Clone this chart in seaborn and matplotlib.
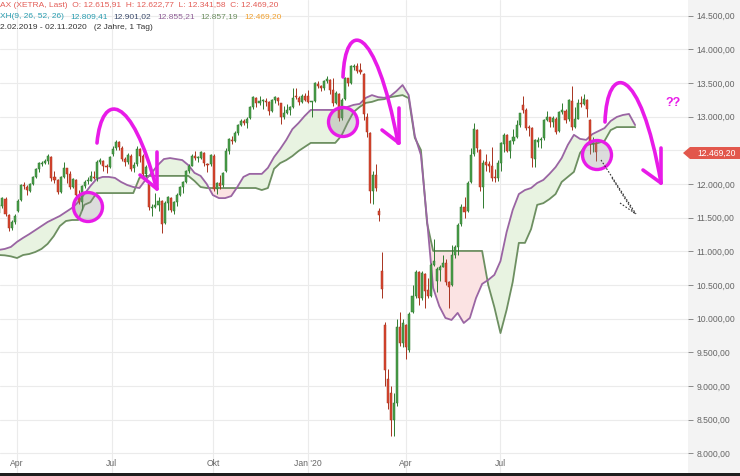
import numpy as np
import pandas as pd
import matplotlib
matplotlib.use("Agg")
import matplotlib.pyplot as plt
import matplotlib.transforms as mtransforms
from matplotlib.patches import Polygon, PathPatch, Rectangle, Circle
from matplotlib.path import Path
import seaborn as sns

# ------------------------------------------------------------------ data
# DAX candles, one candle = 2 trading days, starting mid-March 2019, ending 25.09.2020
open_ = [11570, 11680, 11780, 11540, 11350, 11430, 11600, 11760, 11990, 11960,
         11900, 12000, 12110, 12220, 12300, 12310, 12340, 12400, 12100, 12060,
         11880, 12110, 12230, 12150, 11960, 12060, 11840, 11730, 11970, 12040,
         12050, 12110, 12090, 12330, 12340, 12270, 12250, 12450, 12530, 12620,
         12540, 12370, 12330, 12420, 12230, 12290, 12520, 12420, 12150, 12000,
         11650, 11660, 11690, 11740, 11420, 11710, 11790, 11600, 11730, 11840,
         11950, 12030, 12190, 12270, 12410, 12380, 12390, 12460, 12300, 12290,
         12420, 11920, 12010, 11980, 12200, 12490, 12660, 12640, 12750, 12880,
         12940, 12900, 12980, 13150, 13280, 13200, 13230, 13240, 13220, 13090,
         13250, 13280, 13200, 12990, 13060, 13100, 13150, 13300, 13280, 13220,
         13300, 13300, 13220, 13230, 13490, 13450, 13430, 13530, 13550, 13390,
         13210, 13340, 12980, 13260, 13570, 13500, 13740, 13750, 13690, 13640,
         13000, 12750, 11900, 12130, 11600, 10700, 9900, 9100, 8900, 8500,
         8750, 9880, 9640, 9900, 9530, 10100, 10340, 10690, 10300, 10670,
         10420, 10340, 10800, 10560, 10720, 10770, 10820, 10540, 10500, 10940,
         11060, 11400, 11660, 11600, 12030, 12440, 12800, 12500, 11950, 12320,
         12290, 12270, 12090, 12090, 12310, 12600, 12730, 12490, 12640, 12700,
         12880, 13180, 13100, 12840, 12830, 12370, 12620, 12650, 12690, 12950,
         12990, 12920, 12970, 12780, 13070, 13090, 12960, 13240, 12850, 12970,
         13210, 13190, 13250, 12950, 12600, 12616]
high = [11700, 11800, 11800, 11560, 11470, 11560, 11770, 12000, 12030, 11980,
        12020, 12120, 12240, 12330, 12340, 12370, 12440, 12410, 12200, 12080,
        12120, 12330, 12240, 12190, 12090, 12080, 11910, 11990, 12060, 12110,
        12190, 12200, 12360, 12390, 12350, 12290, 12410, 12560, 12660, 12640,
        12560, 12400, 12460, 12440, 12320, 12560, 12530, 12440, 12280, 12010,
        11700, 11870, 11800, 11760, 11740, 11820, 11810, 11750, 11860, 11970,
        12040, 12210, 12290, 12440, 12490, 12420, 12490, 12470, 12310, 12440,
        12450, 12030, 12130, 12180, 12530, 12690, 12720, 12780, 12890, 12960,
        12970, 13000, 13160, 13300, 13290, 13300, 13260, 13270, 13230, 13260,
        13300, 13290, 13210, 13160, 13190, 13160, 13420, 13430, 13300, 13340,
        13350, 13400, 13240, 13510, 13530, 13470, 13540, 13600, 13560, 13580,
        13380, 13350, 13280, 13590, 13580, 13760, 13780, 13800, 13800, 13650,
        13050, 12770, 12200, 12290, 11650, 10990, 9950, 9250, 9000, 8900,
        10000, 10100, 10000, 9920, 10100, 10500, 10720, 10710, 10700, 10680,
        10600, 10820, 11180, 10760, 10800, 10950, 10880, 10560, 11100, 11100,
        11420, 11700, 11800, 12050, 12530, 12910, 12810, 12520, 12350, 12450,
        12340, 12550, 12220, 12350, 12620, 12750, 12740, 12660, 12820, 12950,
        13060, 13310, 13130, 12880, 12850, 12670, 12700, 12700, 12960, 13080,
        13000, 13010, 12990, 13090, 13210, 13120, 13260, 13460, 13140, 13260,
        13300, 13330, 13260, 12960, 12700, 12623]
low = [11540, 11640, 11520, 11300, 11320, 11400, 11580, 11750, 11930, 11830,
       11880, 11990, 12090, 12180, 12260, 12290, 12300, 12050, 12020, 11850,
       11860, 12090, 12020, 11930, 11940, 11820, 11700, 11620, 11940, 12000,
       12040, 12070, 12040, 12290, 12200, 12170, 12230, 12420, 12500, 12510,
       12340, 12260, 12300, 12200, 12180, 12270, 12330, 12120, 12100, 11620,
       11520, 11640, 11600, 11270, 11400, 11620, 11580, 11550, 11680, 11820,
       11870, 12020, 12170, 12260, 12360, 12330, 12370, 12270, 12180, 12260,
       11900, 11850, 11920, 11960, 12180, 12440, 12600, 12620, 12730, 12860,
       12880, 12830, 12960, 13120, 13150, 13180, 13120, 13160, 13030, 13070,
       13200, 13180, 12890, 12960, 13040, 13030, 13130, 13260, 13180, 13200,
       13230, 13200, 13000, 13220, 13420, 13380, 13400, 13500, 13340, 13160,
       13190, 12940, 12950, 13250, 13460, 13490, 13690, 13650, 13630, 12950,
       12700, 11720, 11700, 11900, 11450, 10300, 9000, 8650, 8260, 8260,
       8700, 9600, 9580, 9400, 9500, 10080, 10300, 10200, 10280, 10160,
       10300, 10320, 10780, 10400, 10560, 10760, 10500, 10160, 10480, 10900,
       10950, 11380, 11500, 11580, 12010, 12420, 12470, 11900, 11650, 12200,
       12180, 12050, 12030, 12040, 12200, 12480, 12470, 12390, 12600, 12680,
       12850, 13050, 12800, 12720, 12250, 12250, 12550, 12540, 12660, 12930,
       12840, 12840, 12740, 12770, 13040, 12900, 12940, 12800, 12830, 12960,
       13150, 13180, 13000, 12440, 12480, 12342]
close = [11686, 11788, 11549, 11346, 11428, 11526, 11754, 11988, 11963, 11905,
         11999, 12101, 12222, 12313, 12315, 12344, 12412, 12092, 12060, 11876,
         12100, 12239, 12143, 11952, 12071, 11838, 11727, 11971, 12035, 12045,
         12116, 12096, 12331, 12355, 12274, 12248, 12399, 12526, 12629, 12543,
         12373, 12323, 12430, 12227, 12289, 12522, 12419, 12147, 12250, 11658,
         11650, 11694, 11750, 11412, 11715, 11802, 11612, 11731, 11838, 11953,
         12025, 12192, 12268, 12410, 12380, 12389, 12468, 12307, 12288, 12428,
         11925, 12012, 11970, 12164, 12486, 12670, 12634, 12754, 12872, 12941,
         12910, 12960, 13148, 13289, 13198, 13230, 13241, 13221, 13086, 13246,
         13287, 13236, 12989, 13055, 13105, 13141, 13282, 13287, 13212, 13301,
         13249, 13219, 13227, 13495, 13452, 13432, 13526, 13556, 13389, 13205,
         13345, 12982, 13250, 13575, 13494, 13749, 13744, 13682, 13665, 13035,
         12774, 11890, 12128, 11944, 11540, 10439, 9232, 8742, 8500, 8741,
         9874, 9633, 9936, 9571, 10075, 10333, 10697, 10301, 10676, 10415,
         10336, 10796, 10862, 10730, 10760, 10824, 10543, 10465, 10939, 11065,
         11392, 11657, 11587, 12021, 12431, 12820, 12530, 11949, 12315, 12281,
         12262, 12093, 12089, 12311, 12608, 12733, 12495, 12633, 12697, 12874,
         13047, 13104, 12838, 12836, 12380, 12650, 12660, 12675, 12947, 12994,
         12920, 12977, 12765, 13062, 13096, 12945, 13243, 12842, 12968, 13208,
         13194, 13255, 13116, 12595, 12607, 12469]
DAYS_PER_CANDLE = 2

# Ichimoku cloud lines (one value every 4 trading days, incl. 26-day projection)
CLOUD_STEP = 4
span_a = [11020, 11035, 11065, 11140, 11200, 11255, 11315, 11375, 11435, 11480,
          11525, 11585, 11645, 11730, 11850, 11970, 12075, 12105, 12105, 12090,
          12030, 11985, 11955, 11940, 12060, 12165, 12280, 12370, 12385, 12370,
          12355, 12280, 12165, 12120, 12000, 11835, 11790, 11790, 11820, 11955,
          12105, 12150, 12150, 12150, 12240, 12400, 12520, 12655, 12815, 12905,
          13010, 13100, 13100, 13100, 13100, 13100, 13115, 13145, 13175, 13190,
          13280, 13320, 13290, 13280, 13305, 13380, 13470, 13320, 12715, 12430,
          11465, 10455, 10185, 10010, 9980, 10085, 9935, 10010, 10305, 10515,
          10575, 10650, 10855, 11285, 11615, 11850, 11910, 11940, 12015, 12060,
          12150, 12250, 12385, 12580, 12730, 12670, 12655, 12740, 12785, 12830,
          12935, 12995, 13025, 13040, 12875]
span_b = [10945, 10940, 10925, 10900, 10945, 10960, 10990, 11035, 11110, 11225,
          11375, 11450, 11465, 11465, 11690, 11730, 11865, 11865, 11865, 11865,
          11865, 11865, 11865, 12090, 12120, 12120, 12120, 12120, 12120, 12120,
          12120, 12120, 12045, 11955, 11940, 11940, 11940, 11940, 11940, 11940,
          11940, 11940, 11940, 11910, 11940, 12225, 12310, 12355, 12415, 12490,
          12550, 12610, 12610, 12610, 12610, 12610, 12715, 12905, 13070, 13145,
          13205, 13220, 13250, 13260, 13290, 13305, 13320, 13275, 12685, 12505,
          11420, 11005, 11005, 11005, 11005, 11005, 11005, 11005, 11005, 11005,
          10500, 10170, 9785, 10130, 10545, 11125, 11125, 11330, 11690, 11715,
          11775, 11850, 12030, 12105, 12180, 12460, 12580, 12595, 12610, 12640,
          12800, 12845, 12845, 12845, 12845]

tick_days = [12, 74, 140, 202, 266, 328]
tick_labels = ["Apr", "Jul", "Okt", "Jan '20", "Apr", "Jul"]
price_levels = [8000 + 500 * i for i in range(14)]
last_close = 12469.20

header_1 = "AX (XETRA, Last)  O: 12.615,91  H: 12.622,77  L: 12.341,58  C: 12.469,20"
header_2 = [("XH(9, 26, 52, 26)", "#2a9db0"),
            ("12.809,41", "#2a9db0"),
            ("12.901,02", "#3b4a6b"),
            ("12.855,21", "#8f5f96"),
            ("12.857,19", "#6d8f61"),
            ("12.469,20", "#f0a030")]
header_3 = "2.02.2019 - 02.11.2020   (2 Jahre, 1 Tag)"

# ------------------------------------------------------------------ style
sns.set_theme(style="white")
plt.rcParams['font.family'] = ['Liberation Sans', 'DejaVu Sans']

W, H = 740, 476
PLOT_W = 688
FS = 6.2
HFS = 6.0
fig = plt.figure(figsize=(W / 100, H / 100), dpi=100)
fig.patch.set_facecolor('white')
ax = fig.add_axes([0, 0, PLOT_W / W, 1])
ax.set_facecolor('white')

# pixel helper transform for the hand-drawn annotations
px = mtransforms.Affine2D().scale(1 / W, -1 / H).translate(0, 1) + fig.transFigure

# right grey scale area
fig.add_artist(Rectangle((PLOT_W / W, 0), 1 - PLOT_W / W, 1, transform=fig.transFigure,
                         facecolor='#f3f3f3', edgecolor='none', zorder=-5))

px_per_day = 1.53
x_left = 12 - 17 / px_per_day
ax.set_xlim(x_left, x_left + PLOT_W / px_per_day)
ax.set_ylim(7662, 14733)

# ------------------------------------------------------------------ cloud
cd = np.arange(len(span_a)) * CLOUD_STEP
a = np.array(span_a, float)
b = np.array(span_b, float)
ax.fill_between(cd, a, b, where=a >= b, interpolate=True, color='#e8f3e1', lw=0, zorder=1)
ax.fill_between(cd, a, b, where=a < b, interpolate=True, color='#fbe3e3', lw=0, zorder=1)
cloud_df = pd.DataFrame({'day': cd, 'A': a, 'B': b})
sns.lineplot(data=cloud_df, x='day', y='B', ax=ax, color='#6d8f61', lw=1.3, zorder=2)
sns.lineplot(data=cloud_df, x='day', y='A', ax=ax, color='#9a65a3', lw=1.3, zorder=2)

# ------------------------------------------------------------------ candles
o = np.array(open_, float); h = np.array(high, float)
l = np.array(low, float); c = np.array(close, float)
xc = np.arange(len(c)) * DAYS_PER_CANDLE + 0.5
up = c >= o
body_col = np.where(up, '#4a9e4a', '#d9472f')
edge_col = np.where(up, '#2f7a2f', '#a8321f')
ax.vlines(xc, l, h, colors=list(edge_col), linewidth=0.7, zorder=3)
ax.bar(xc, np.maximum(np.abs(c - o), 14), bottom=np.minimum(o, c), width=1.35,
       color=list(body_col), edgecolor=list(edge_col), linewidth=0.35, zorder=4)

# ------------------------------------------------------------------ axes
def de_fmt(v):
    s = f"{v:,.2f}"
    return s.replace(',', 'X').replace('.', ',').replace('X', '.')

ax.set_yticks(price_levels)
ax.set_yticklabels([de_fmt(v) for v in price_levels])
ax.yaxis.tick_right()
ax.tick_params(axis='y', right=True, length=3.5, width=0.7, color='#8a8a8a', pad=2.5,
               labelsize=FS, labelcolor='#666666')
ax.set_xticks(tick_days)
ax.set_xticklabels([])
ax.tick_params(axis='x', length=0)
ax.grid(True, axis='both', color='#ebebeb', lw=0.8, zorder=0)
ax.set_axisbelow(True)
for s in ax.spines.values():
    s.set_visible(False)
ax.set_xlabel(''); ax.set_ylabel('')
xtrans = mtransforms.blended_transform_factory(ax.transData, ax.transAxes)
for d, lab in zip(tick_days, tick_labels):
    ax.text(d, 1 - 463 / H, lab, transform=xtrans, ha='center', va='center',
            fontsize=FS, color='#666666', zorder=6)

# ------------------------------------------------------------------ price tag
tag = Polygon([(683, 153), (690, 147), (740, 147), (740, 159), (690, 159)], closed=True,
              transform=px, facecolor='#e2574c', edgecolor='none', zorder=20)
fig.add_artist(tag)
fig.text(697 / W, 1 - 153 / H, de_fmt(last_close), color='white', fontsize=FS,
         va='center', ha='left', zorder=21)

# ------------------------------------------------------------------ headers
fig.text(0, 1 - 5.5 / H, header_1, color='#e35d57', fontsize=HFS, va='center', ha='left')
renderer = fig.canvas.get_renderer()
xcur = 0.0
for txt, col in header_2:
    t = fig.text(xcur / W, 1 - 16.5 / H, txt, color=col, fontsize=HFS, va='center', ha='left')
    bb = t.get_window_extent(renderer=renderer)
    xcur += bb.width + 6
fig.text(0, 1 - 27.5 / H, header_3, color='#333333', fontsize=HFS, va='center', ha='left')

# ------------------------------------------------------------------ hand-drawn marks
MAG = '#e81be8'
for cx, cy in [(88, 207), (343, 122), (597, 155)]:
    fig.add_artist(Circle((cx, cy), 14.5, transform=px, facecolor=(0.55, 0.55, 0.55, 0.3),
                          edgecolor=MAG, lw=2.4, zorder=15))

arcs = [
    [(97, 143), (102, 90), (132, 95), (156, 187)],
    [(343, 77), (345, 20), (375, 20), (398, 143)],
    [(605, 122), (607, 62), (640, 62), (661, 183)],
]
heads = [
    [((157, 152), (157, 189)), ((140, 175), (157, 189))],
    [((399, 108), (399, 143)), ((382, 130), (399, 143))],
    [((661, 148), (661, 183)), ((643, 170), (661, 183))],
]
for pts, hd in zip(arcs, heads):
    path = Path(pts, [Path.MOVETO, Path.CURVE4, Path.CURVE4, Path.CURVE4])
    fig.add_artist(PathPatch(path, transform=px, fill=False, edgecolor=MAG, lw=2.6,
                             capstyle='round', zorder=16))
    for p0, p1 in hd:
        fig.add_artist(plt.Line2D([p0[0], p1[0]], [p0[1], p1[1]], transform=px, color=MAG,
                                  lw=2.6, solid_capstyle='round', zorder=16))

for p0, p1 in [((601, 160), (636, 214)), ((612, 178), (634, 213)), ((620, 203), (636, 214))]:
    fig.add_artist(plt.Line2D([p0[0], p1[0]], [p0[1], p1[1]], transform=px, color='#333333',
                              lw=0.8, linestyle=(0, (1.5, 1.5)), zorder=16))

fig.text(665 / W, 1 - 103 / H, "??", color=MAG, fontsize=9, fontweight='bold',
         va='center', ha='left', zorder=16)

# bottom dark strip
fig.add_artist(Rectangle((0, 0), 1, 3.5 / H, transform=fig.transFigure,
                         facecolor='#1e1e1e', edgecolor='none', zorder=30))

fig.savefig('out.png', dpi=100)
